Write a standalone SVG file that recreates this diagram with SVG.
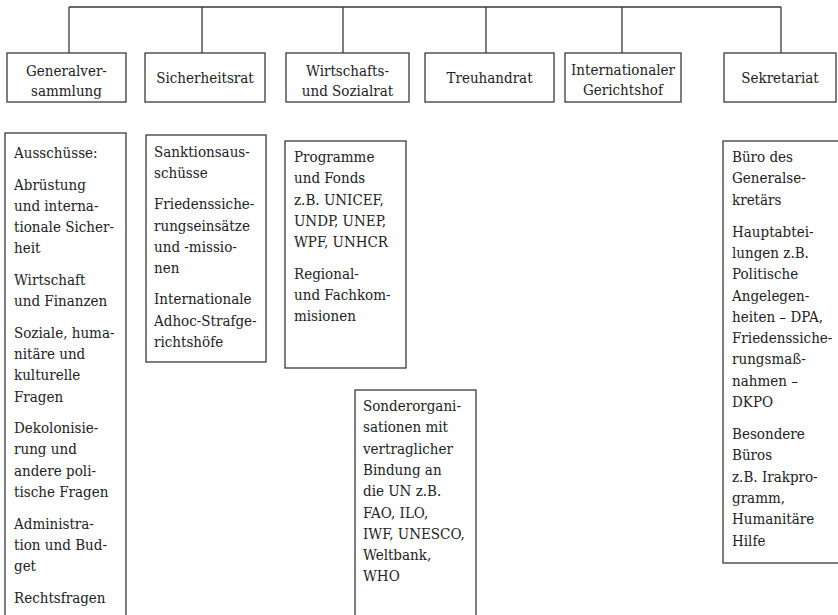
<svg xmlns="http://www.w3.org/2000/svg" width="838" height="615" viewBox="0 0 838 615">
<style>
.box{fill:#fff;stroke:#3a3a3a;stroke-width:1.3}
.con{fill:none;stroke:#3a3a3a;stroke-width:1.3}
text{font-family:"DejaVu Serif","Liberation Serif",serif;font-stretch:condensed;font-size:15px;fill:#222}
.c{text-anchor:middle}
</style>
<rect width="838" height="615" fill="#fff"/>
<g id="connectors">
<path class="con" d="M69 7H781M69 7V53M202 7V53M343 7V53M486 7V53M622 7V53M781 7V53"/>
</g>
<g id="generalversammlung">
<rect class="box" x="7" y="53" width="119" height="49"/>
<text class="c"><tspan x="66.5" y="76">Generalver-</tspan><tspan x="66.5" y="95.5">sammlung</tspan></text>
</g>
<g id="sicherheitsrat">
<rect class="box" x="145" y="53" width="120" height="49"/>
<text class="c" x="205" y="83">Sicherheitsrat</text>
</g>
<g id="wirtschafts-sozialrat">
<rect class="box" x="286" y="53" width="123" height="49"/>
<text class="c"><tspan x="347.5" y="76">Wirtschafts-</tspan><tspan x="347.5" y="95.5">und Sozialrat</tspan></text>
</g>
<g id="treuhandrat">
<rect class="box" x="425" y="53" width="129" height="49"/>
<text class="c" x="489.5" y="83">Treuhandrat</text>
</g>
<g id="gerichtshof">
<rect class="box" x="565" y="53" width="116" height="49"/>
<text class="c"><tspan x="623" y="75">Internationaler</tspan><tspan x="623" y="95">Gerichtshof</tspan></text>
</g>
<g id="sekretariat">
<rect class="box" x="724" y="53" width="112" height="49"/>
<text class="c" x="780" y="83">Sekretariat</text>
</g>
<g id="ausschuesse">
<rect class="box" x="5" y="133" width="121" height="500"/>
<text><tspan x="14" y="158">Ausschüsse:</tspan><tspan x="14" y="189.5">Abrüstung</tspan><tspan x="14" y="210.8">und interna-</tspan><tspan x="14" y="232.1">tionale Sicher-</tspan><tspan x="14" y="253.4">heit</tspan><tspan x="14" y="284.9">Wirtschaft</tspan><tspan x="14" y="306.2">und Finanzen</tspan><tspan x="14" y="337.7">Soziale, huma-</tspan><tspan x="14" y="359">nitäre und</tspan><tspan x="14" y="380.3">kulturelle</tspan><tspan x="14" y="401.6">Fragen</tspan><tspan x="14" y="433.1">Dekolonisie-</tspan><tspan x="14" y="454.4">rung und</tspan><tspan x="14" y="475.7">andere poli-</tspan><tspan x="14" y="497">tische Fragen</tspan><tspan x="14" y="528.5">Administra-</tspan><tspan x="14" y="549.8">tion und Bud-</tspan><tspan x="14" y="571.1">get</tspan><tspan x="14" y="602.6">Rechtsfragen</tspan></text>
</g>
<g id="sicherheitsrat-organe">
<rect class="box" x="146" y="135" width="120" height="227"/>
<text><tspan x="154" y="157">Sanktionsaus-</tspan><tspan x="154" y="178.3">schüsse</tspan><tspan x="154" y="209.3">Friedenssiche-</tspan><tspan x="154" y="230.6">rungseinsätze</tspan><tspan x="154" y="251.9">und -missio-</tspan><tspan x="154" y="273.2">nen</tspan><tspan x="154" y="304.2">Internationale</tspan><tspan x="154" y="325.5">Adhoc-Strafge-</tspan><tspan x="154" y="346.8">richtshöfe</tspan></text>
</g>
<g id="programme-fonds">
<rect class="box" x="285" y="141" width="121" height="227"/>
<text><tspan x="294" y="162">Programme</tspan><tspan x="294" y="183.3">und Fonds</tspan><tspan x="294" y="204.6">z.B. UNICEF,</tspan><tspan x="294" y="225.9">UNDP, UNEP,</tspan><tspan x="294" y="247.2">WPF, UNHCR</tspan><tspan x="294" y="278.7">Regional-</tspan><tspan x="294" y="300">und Fachkom-</tspan><tspan x="294" y="321.3">misionen</tspan></text>
</g>
<g id="sonderorganisationen">
<rect class="box" x="355" y="390" width="121" height="250"/>
<text><tspan x="363" y="411">Sonderorgani-</tspan><tspan x="363" y="432.3">sationen mit</tspan><tspan x="363" y="453.6">vertraglicher</tspan><tspan x="363" y="474.9">Bindung an</tspan><tspan x="363" y="496.2">die UN z.B.</tspan><tspan x="363" y="517.5">FAO, ILO,</tspan><tspan x="363" y="538.8">IWF, UNESCO,</tspan><tspan x="363" y="560.1">Weltbank,</tspan><tspan x="363" y="581.4">WHO</tspan></text>
</g>
<g id="sekretariat-abteilungen">
<rect class="box" x="723" y="141" width="130" height="422"/>
<text><tspan x="732" y="162">Büro des</tspan><tspan x="732" y="183.3">Generalse-</tspan><tspan x="732" y="204.6">kretärs</tspan><tspan x="732" y="236.6">Hauptabtei-</tspan><tspan x="732" y="257.9">lungen z.B.</tspan><tspan x="732" y="279.2">Politische</tspan><tspan x="732" y="300.5">Angelegen-</tspan><tspan x="732" y="321.8">heiten – DPA,</tspan><tspan x="732" y="343.1">Friedenssiche-</tspan><tspan x="732" y="364.4">rungsmaß-</tspan><tspan x="732" y="385.7">nahmen –</tspan><tspan x="732" y="407">DKPO</tspan><tspan x="732" y="439">Besondere</tspan><tspan x="732" y="460.3">Büros</tspan><tspan x="732" y="481.6">z.B. Irakpro-</tspan><tspan x="732" y="502.9">gramm,</tspan><tspan x="732" y="524.2">Humanitäre</tspan><tspan x="732" y="545.5">Hilfe</tspan></text>
</g>
</svg>
